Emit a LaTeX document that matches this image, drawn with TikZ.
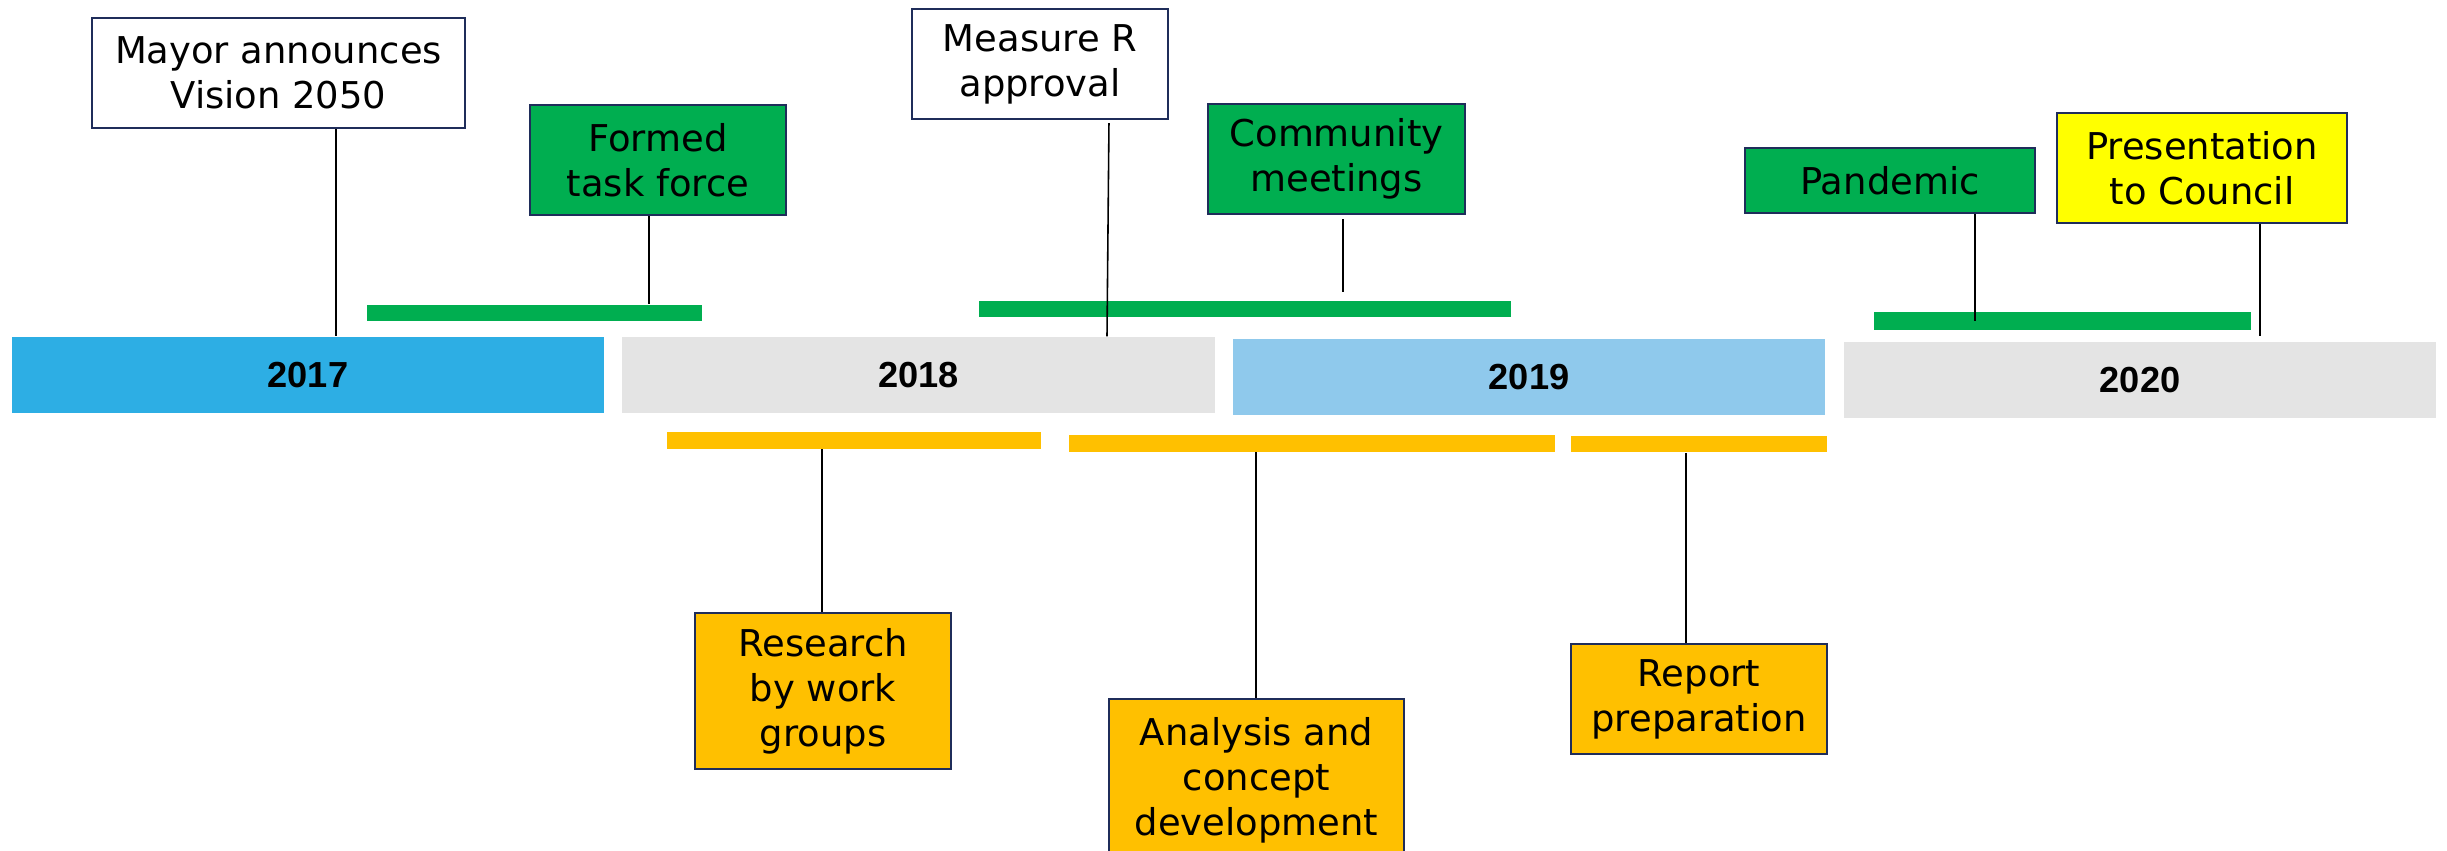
\documentclass[tikz,border=0pt]{standalone}
\usepackage{fontspec}
\setmainfont{DejaVu Sans}
\newfontfamily\yearfont{Liberation Sans}

\definecolor{yrblue}{HTML}{2DAEE4}
\definecolor{yrlight}{HTML}{8FC9EC}
\definecolor{yrgray}{HTML}{E4E4E4}
\definecolor{taskgreen}{HTML}{00AE50}
\definecolor{workgold}{HTML}{FFC000}
\definecolor{hiyellow}{HTML}{FFFF00}
\definecolor{boxnavy}{HTML}{1F2D5A}

\tikzset{
  event/.style={draw=boxnavy, line width=0.6pt, align=center, inner sep=0pt,
    font=\fontsize{10.5}{12.8}\selectfont},
  yearbar/.style={inner sep=0pt, minimum width=5.92cm, minimum height=0.76cm,
    font=\yearfont\bfseries\fontsize{10.3}{12}\selectfont},
  spanbar/.style={inner sep=0pt, minimum height=0.165cm},
  tick/.style={line width=0.45pt, black},
}

\begin{document}
\begin{tikzpicture}[x=0.01cm, y=-0.01cm]
  \useasboundingbox (0,0) rectangle (2447,851);

  % years
  \node[yearbar, fill=yrblue]  (y2017) at (308,375)    {2017};
  \node[yearbar, fill=yrgray]  (y2018) at (918.5,375)  {2018};
  \node[yearbar, fill=yrlight] (y2019) at (1529,377)   {2019};
  \node[yearbar, fill=yrgray]  (y2020) at (2140,380)   {2020};

  % spans above and below
  \node[spanbar, fill=taskgreen, minimum width=3.35cm] (g1) at (534.5,313) {};
  \node[spanbar, fill=taskgreen, minimum width=5.32cm] (g2) at (1245,309) {};
  \node[spanbar, fill=taskgreen, minimum width=3.77cm, minimum height=0.18cm] (g3) at (2062.5,321) {};
  \node[spanbar, fill=workgold, minimum width=3.74cm] (w1) at (854,440.5) {};
  \node[spanbar, fill=workgold, minimum width=4.86cm] (w2) at (1312,443.5) {};
  \node[spanbar, fill=workgold, minimum width=2.56cm] (w3) at (1699,444) {};

  % events
  \node[event, fill=white, minimum width=3.73cm, minimum height=1.10cm] (mayor) at (278.5,73) {Mayor announces\\Vision 2050};
  \node[event, fill=taskgreen, minimum width=2.56cm, minimum height=1.10cm] (formed) at (658,160) {Formed\\task force};
  \node[event, fill=white, minimum width=2.56cm, minimum height=1.10cm] (measure) at (1040,64) {Measure R\\approval};
  \node[event, fill=taskgreen, minimum width=2.57cm, minimum height=1.10cm] (community) at (1336.5,159) {Community\\meetings};
  \node[event, fill=taskgreen, minimum width=2.90cm, minimum height=0.65cm] (pandemic) at (1890,180.5) {Pandemic};
  \node[event, fill=hiyellow, minimum width=2.90cm, minimum height=1.10cm] (council) at (2202,168) {Presentation\\to Council};
  \node[event, fill=workgold, minimum width=2.56cm, minimum height=1.56cm] (research) at (823,691) {Research\\by work\\groups};
  \node[event, fill=workgold, minimum width=2.95cm, minimum height=1.62cm] (analysis) at (1256.5,780) {Analysis and\\concept\\development};
  \node[event, fill=workgold, minimum width=2.56cm, minimum height=1.10cm] (report) at (1699,699) {Report\\preparation};

  % tick positions
  \coordinate (tMayor) at (336,0);
  \coordinate (tFormed) at (649,0);
  \coordinate (tMeasTop) at (1109,0);
  \coordinate (tMeasBot) at (1107,0);
  \coordinate (tComm) at (1343,0);
  \coordinate (tPan) at (1975,0);
  \coordinate (tCouncil) at (2260,0);
  \coordinate (tRes) at (822,0);
  \coordinate (tAna) at (1256,0);
  \coordinate (tRep) at (1686,0);

  \draw[tick] (mayor.south -| tMayor) -- (y2017.north -| tMayor);
  \draw[tick] (formed.south -| tFormed) -- (g1.north -| tFormed);
  \draw[tick, shorten <=0.03cm] (measure.south -| tMeasTop) -- (y2018.north -| tMeasBot);
  \draw[tick, shorten <=0.04cm, shorten >=0.08cm] (community.south -| tComm) -- (g2.north -| tComm);
  \draw[tick] (pandemic.south -| tPan) -- (g3.center -| tPan);
  \draw[tick, shorten >=0.05cm] (council.south -| tCouncil) -- (y2020.north -| tCouncil);
  \draw[tick] (w1.south -| tRes) -- (research.north -| tRes);
  \draw[tick] (w2.south -| tAna) -- (analysis.north -| tAna);
  \draw[tick] (w3.south -| tRep) -- (report.north -| tRep);
\end{tikzpicture}
\end{document}
